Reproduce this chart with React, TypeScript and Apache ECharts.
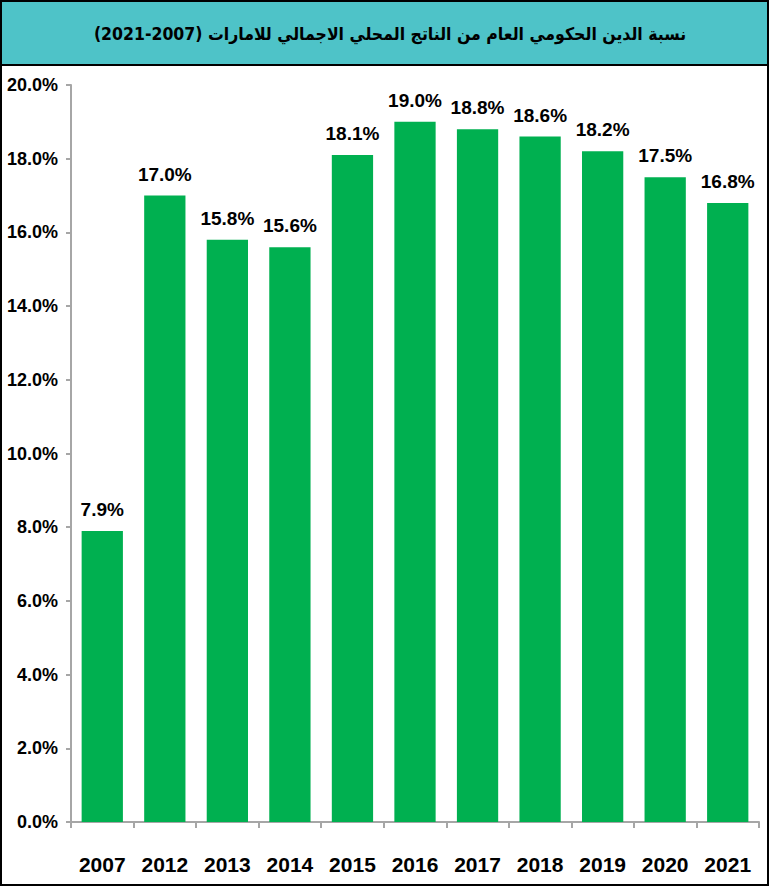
import React, { useEffect, useRef } from "react";
import * as echarts from "echarts";

const years = ["2007", "2012", "2013", "2014", "2015", "2016", "2017", "2018", "2019", "2020", "2021"];
const debtRatio = [7.9, 17.0, 15.8, 15.6, 18.1, 19.0, 18.8, 18.6, 18.2, 17.5, 16.8];
const titleText = "\u202Bنسبة الدين الحكومي العام من الناتج المحلي الاجمالي للامارات (2007-2021)\u202C";

const narrow = "'Liberation Sans Narrow', 'Arial Narrow', 'Liberation Sans', Arial, sans-serif";

export default function App() {
  const ref = useRef<HTMLDivElement>(null);
  useEffect(() => {
    if (!ref.current) return;
    const chart = echarts.init(ref.current, null, { renderer: "svg" });
    chart.setOption({
      animation: false,
      backgroundColor: "#ffffff",
      graphic: [
        {
          type: "rect",
          shape: { x: 1, y: 1, width: 767, height: 884 },
          style: { fill: "none", stroke: "#000", lineWidth: 2 },
          z: 10,
        },
        {
          type: "rect",
          shape: { x: 1, y: 1, width: 767, height: 64 },
          style: { fill: "#4EC3C8", stroke: "#000", lineWidth: 2 },
          z: 5,
        },
        {
          type: "text",
          x: 390,
          y: 34,
          style: {
            text: titleText,
            fill: "#000",
            font: "bold 17.5px 'DejaVu Sans Condensed', 'DejaVu Sans', sans-serif",
            align: "center",
            verticalAlign: "middle",
          },
          z: 11,
        },
      ],
      grid: { left: 71, right: 11, top: 85, bottom: 65, outerBoundsMode: "none", containLabel: false },
      xAxis: {
        type: "category",
        data: years,
        axisLine: { lineStyle: { color: "#A6A6A6", width: 2 } },
        axisTick: { show: true, length: 6, lineStyle: { color: "#A6A6A6", width: 2 } },
        axisLabel: {
          interval: 0,
          color: "#000",
          fontSize: 21,
          fontWeight: "bold",
          fontFamily: narrow,
          margin: 32,
        },
      },
      yAxis: {
        type: "value",
        min: 0,
        max: 20,
        interval: 2,
        splitLine: { show: false },
        axisLine: { show: true, lineStyle: { color: "#A6A6A6", width: 2 } },
        axisTick: { show: true, length: 5, lineStyle: { color: "#A6A6A6", width: 2 } },
        axisLabel: {
          color: "#000",
          fontSize: 18,
          fontWeight: "bold",
          fontFamily: narrow,
          margin: 13,
          formatter: (v: number) => v.toFixed(1) + "%",
        },
      },
      series: [
        {
          type: "bar",
          data: debtRatio,
          barWidth: "66%",
          itemStyle: { color: "#00B050" },
          label: {
            show: true,
            position: "top",
            distance: 12,
            color: "#000",
            fontSize: 19,
            fontWeight: "bold",
            fontFamily: narrow,
            formatter: (p: any) => Number(p.value).toFixed(1) + "%",
          },
        },
      ],
    });
    return () => chart.dispose();
  }, []);
  return (
    <div
      ref={ref}
      style={{ position: "absolute", left: 0, top: 0, width: 770, height: 887 }}
    />
  );
}
